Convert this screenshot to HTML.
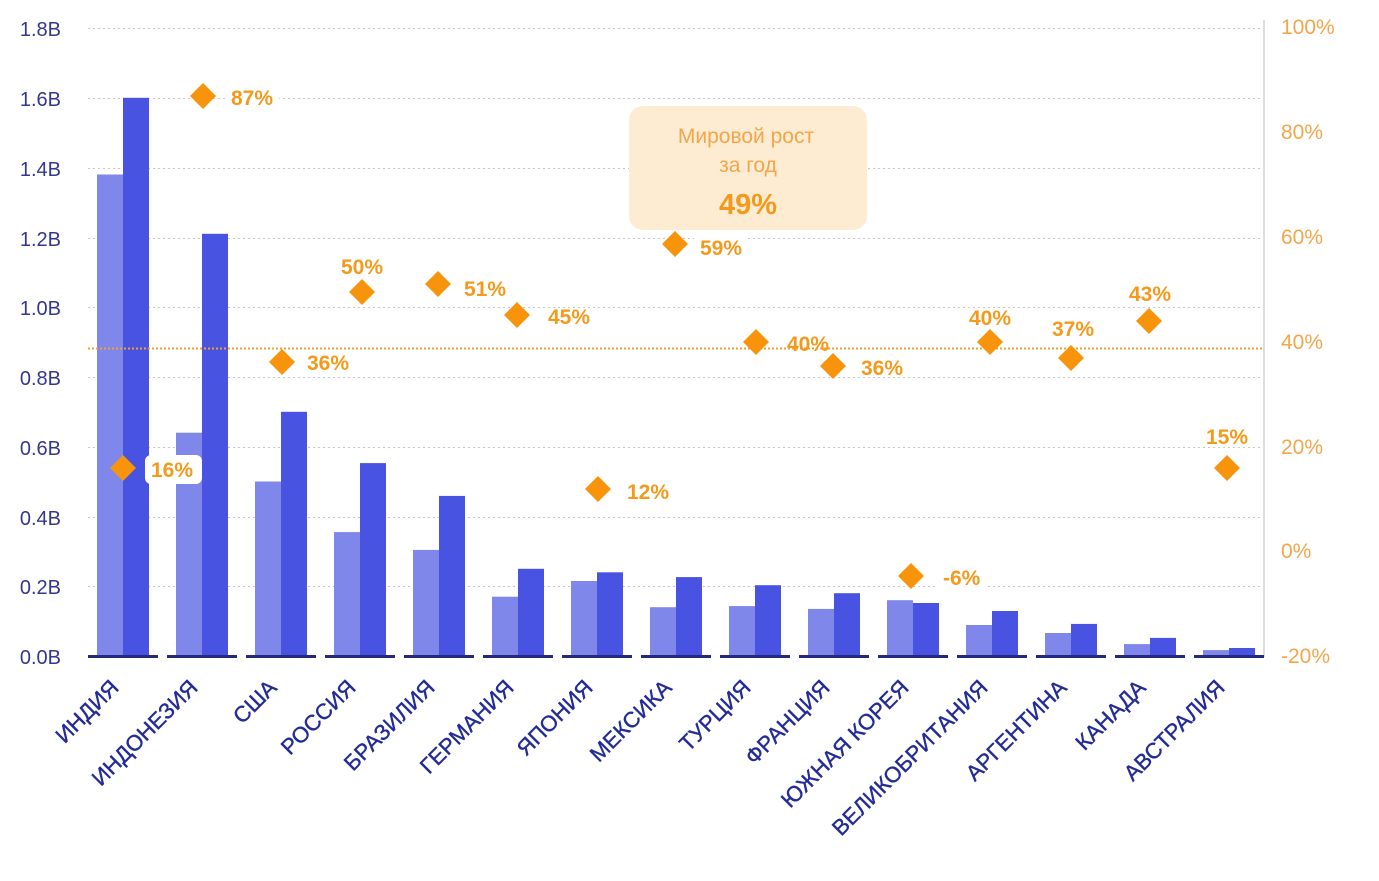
<!DOCTYPE html>
<html><head><meta charset="utf-8"><style>
html,body{margin:0;padding:0;background:#fff;}
svg{display:block;font-family:"Liberation Sans","DejaVu Sans",sans-serif;}
</style></head><body>
<svg width="1379" height="881" viewBox="0 0 1379 881" xmlns="http://www.w3.org/2000/svg">
<g stroke="#c8c8c8" stroke-width="1" stroke-dasharray="2,3">
<line x1="88" y1="28.5" x2="1262" y2="28.5"/>
<line x1="88" y1="98.5" x2="1262" y2="98.5"/>
<line x1="88" y1="168.5" x2="1262" y2="168.5"/>
<line x1="88" y1="238.5" x2="1262" y2="238.5"/>
<line x1="88" y1="307.5" x2="1262" y2="307.5"/>
<line x1="88" y1="377.5" x2="1262" y2="377.5"/>
<line x1="88" y1="447.5" x2="1262" y2="447.5"/>
<line x1="88" y1="517.5" x2="1262" y2="517.5"/>
<line x1="88" y1="586.5" x2="1262" y2="586.5"/>
</g>
<line x1="1264" y1="20" x2="1264" y2="657" stroke="#d4d4d4" stroke-width="1.5"/>
<g font-size="20" fill="#33378f" text-anchor="end">
<text x="61" y="36">1.8B</text><text x="61" y="106">1.6B</text><text x="61" y="176">1.4B</text>
<text x="61" y="246">1.2B</text><text x="61" y="315">1.0B</text><text x="61" y="385">0.8B</text>
<text x="61" y="455">0.6B</text><text x="61" y="525">0.4B</text><text x="61" y="594">0.2B</text>
<text x="61" y="664">0.0B</text>
</g>
<g font-size="21" fill="#f2a64a">
<text x="1281" y="34">100%</text><text x="1281" y="139">80%</text><text x="1281" y="244">60%</text>
<text x="1281" y="349">40%</text><text x="1281" y="454">20%</text><text x="1281" y="558">0%</text>
<text x="1281" y="663">-20%</text>
</g>
<g fill="#7f87ea">
<rect x="97" y="174.5" width="26" height="481.5"/>
<rect x="176" y="432.7" width="26" height="223.3"/>
<rect x="255" y="481.5" width="26" height="174.5"/>
<rect x="334" y="532.1" width="26" height="123.9"/>
<rect x="413" y="549.9" width="26" height="106.1"/>
<rect x="492" y="596.7" width="26" height="59.3"/>
<rect x="571" y="581" width="26" height="75"/>
<rect x="650" y="607.2" width="26" height="48.8"/>
<rect x="729" y="606.1" width="26" height="49.9"/>
<rect x="808" y="608.9" width="26" height="47.1"/>
<rect x="887" y="600.2" width="26" height="55.8"/>
<rect x="966" y="625" width="26" height="31"/>
<rect x="1045" y="633" width="26" height="23"/>
<rect x="1124" y="644.1" width="26" height="11.9"/>
<rect x="1203" y="650.1" width="26" height="5.9"/>
</g>
<g fill="#4953e1">
<rect x="123" y="97.8" width="26" height="558.2"/>
<rect x="202" y="233.8" width="26" height="422.2"/>
<rect x="281" y="411.8" width="26" height="244.2"/>
<rect x="360" y="463.1" width="26" height="192.9"/>
<rect x="439" y="495.9" width="26" height="160.1"/>
<rect x="518" y="568.8" width="26" height="87.2"/>
<rect x="597" y="572.3" width="26" height="83.7"/>
<rect x="676" y="577.1" width="26" height="78.9"/>
<rect x="755" y="585.2" width="26" height="70.8"/>
<rect x="834" y="593.2" width="26" height="62.8"/>
<rect x="913" y="603" width="26" height="53"/>
<rect x="992" y="611" width="26" height="45"/>
<rect x="1071" y="623.9" width="26" height="32.1"/>
<rect x="1150" y="637.9" width="26" height="18.1"/>
<rect x="1229" y="648" width="26" height="8"/>
</g>
<g fill="#232a7e">
<rect x="88" y="655" width="70" height="3"/><rect x="167" y="655" width="70" height="3"/>
<rect x="246" y="655" width="70" height="3"/><rect x="325" y="655" width="70" height="3"/>
<rect x="404" y="655" width="70" height="3"/><rect x="483" y="655" width="70" height="3"/>
<rect x="562" y="655" width="70" height="3"/><rect x="641" y="655" width="70" height="3"/>
<rect x="720" y="655" width="70" height="3"/><rect x="799" y="655" width="70" height="3"/>
<rect x="878" y="655" width="70" height="3"/><rect x="957" y="655" width="70" height="3"/>
<rect x="1036" y="655" width="70" height="3"/><rect x="1115" y="655" width="70" height="3"/>
<rect x="1194" y="655" width="70" height="3"/>
</g>
<rect x="629" y="106" width="238" height="124" rx="14" fill="#fdebd2"/>
<g fill="#f39a1c" text-anchor="middle">
<text x="746" y="143" font-size="21" fill="#f2a64a">Мировой рост</text>
<text x="748" y="172" font-size="21" fill="#f2a64a">за год</text>
<text x="748" y="214" font-size="29" font-weight="bold">49%</text>
</g>
<g fill="#fff">
<rect x="145" y="455" width="57" height="29" rx="6"/>
<rect x="225" y="84" width="54" height="27" rx="6"/>
<rect x="621" y="478" width="54" height="27" rx="6"/>
<rect x="694" y="234" width="54" height="27" rx="6"/>
<rect x="937" y="564" width="50" height="27" rx="6"/>
</g>
<line x1="88" y1="348.5" x2="1262" y2="348.5" stroke="#f0a030" stroke-width="2" stroke-dasharray="2,2"/>
<g fill="#f7940c">
<polygon points="123,455 136,468 123,481 110,468"/>
<polygon points="203,83 216,96 203,109 190,96"/>
<polygon points="282,349 295,362 282,375 269,362"/>
<polygon points="362,279 375,292 362,305 349,292"/>
<polygon points="438,271 451,284 438,297 425,284"/>
<polygon points="517,302 530,315 517,328 504,315"/>
<polygon points="598,476 611,489 598,502 585,489"/>
<polygon points="675,231 688,244 675,257 662,244"/>
<polygon points="756,329 769,342 756,355 743,342"/>
<polygon points="833,353 846,366 833,379 820,366"/>
<polygon points="911,563 924,576 911,589 898,576"/>
<polygon points="990,329 1003,342 990,355 977,342"/>
<polygon points="1071,345 1084,358 1071,371 1058,358"/>
<polygon points="1149,308 1162,321 1149,334 1136,321"/>
<polygon points="1227,455 1240,468 1227,481 1214,468"/>
</g>
<g font-size="21" font-weight="bold" fill="#f39a1c">
<text x="151" y="477">16%</text>
<text x="231" y="105">87%</text>
<text x="307" y="370">36%</text>
<text x="341" y="274">50%</text>
<text x="464" y="296">51%</text>
<text x="548" y="324">45%</text>
<text x="627" y="499">12%</text>
<text x="700" y="255">59%</text>
<text x="787" y="351">40%</text>
<text x="861" y="375">36%</text>
<text x="943" y="585">-6%</text>
<text x="969" y="325">40%</text>
<text x="1052" y="336">37%</text>
<text x="1129" y="301">43%</text>
<text x="1206" y="444">15%</text>
</g>
<g font-size="22" fill="#232b95" text-anchor="end" stroke="#232b95" stroke-width="0.4">
<text x="120" y="689" transform="rotate(-45 120 689)">ИНДИЯ</text>
<text x="199" y="689" transform="rotate(-45 199 689)">ИНДОНЕЗИЯ</text>
<text x="278" y="689" transform="rotate(-45 278 689)">США</text>
<text x="357" y="689" transform="rotate(-45 357 689)">РОССИЯ</text>
<text x="436" y="689" transform="rotate(-45 436 689)">БРАЗИЛИЯ</text>
<text x="515" y="689" transform="rotate(-45 515 689)">ГЕРМАНИЯ</text>
<text x="594" y="689" transform="rotate(-45 594 689)">ЯПОНИЯ</text>
<text x="673" y="689" transform="rotate(-45 673 689)">МЕКСИКА</text>
<text x="752" y="689" transform="rotate(-45 752 689)">ТУРЦИЯ</text>
<text x="831" y="689" transform="rotate(-45 831 689)">ФРАНЦИЯ</text>
<text x="910" y="689" transform="rotate(-45 910 689)">ЮЖНАЯ КОРЕЯ</text>
<text x="989" y="689" transform="rotate(-45 989 689)">ВЕЛИКОБРИТАНИЯ</text>
<text x="1068" y="689" transform="rotate(-45 1068 689)">АРГЕНТИНА</text>
<text x="1147" y="689" transform="rotate(-45 1147 689)">КАНАДА</text>
<text x="1226" y="689" transform="rotate(-45 1226 689)">АВСТРАЛИЯ</text>
</g>
</svg>
</body></html>
